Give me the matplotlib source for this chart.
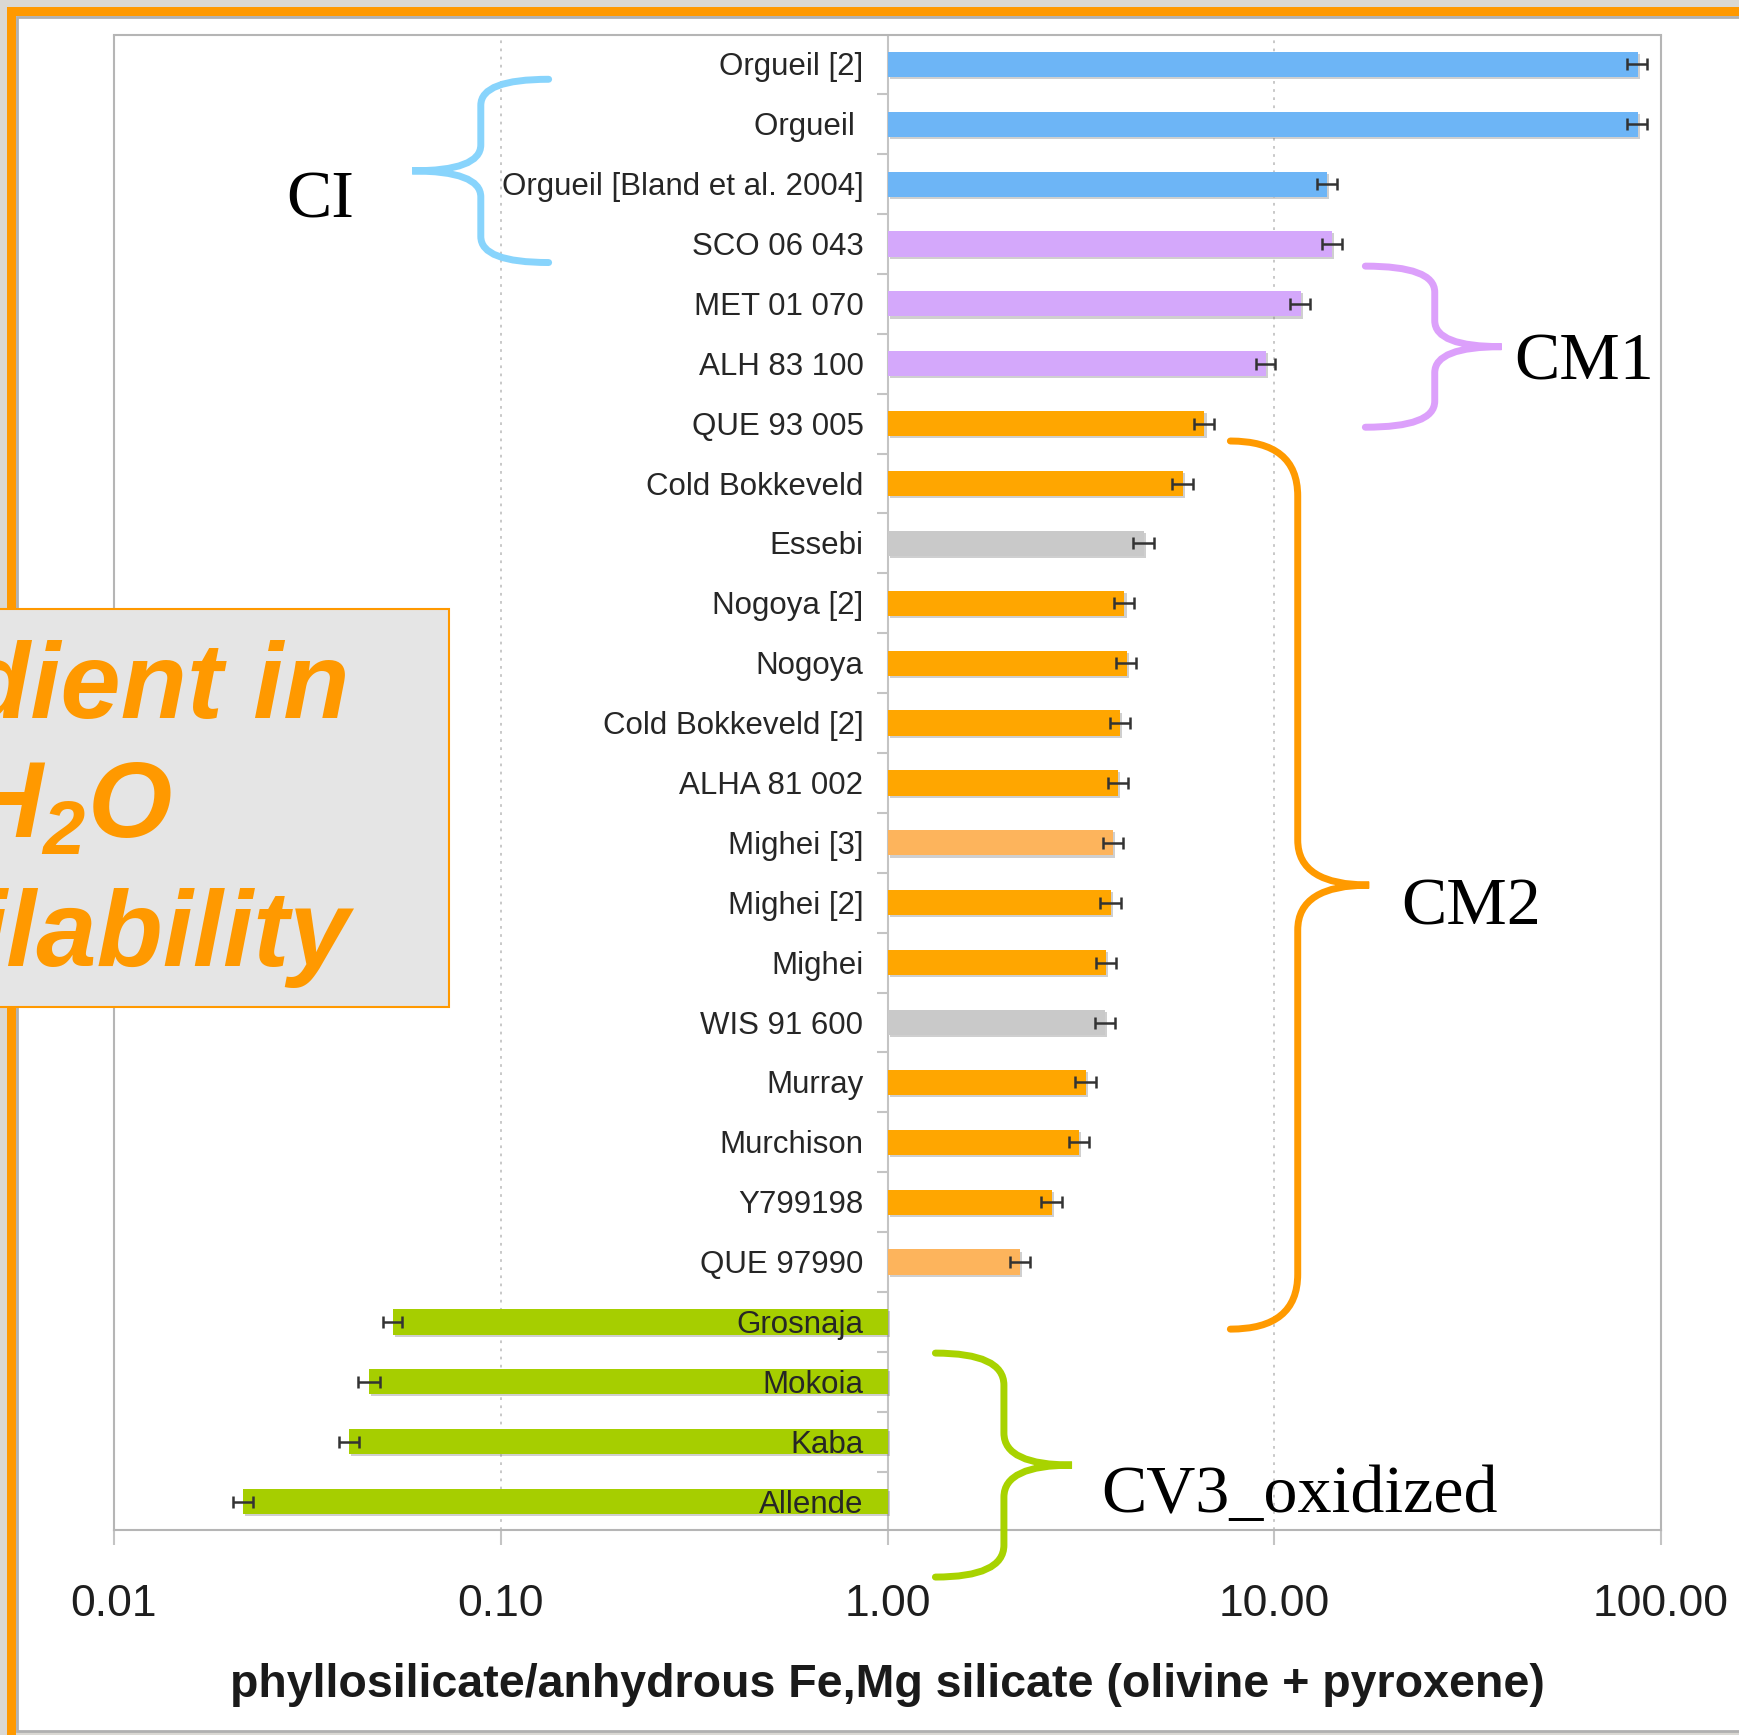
import matplotlib
matplotlib.use("Agg")
import matplotlib.pyplot as plt
import matplotlib.patheffects as pe
from matplotlib.patches import Rectangle, PathPatch
from matplotlib.path import Path
from matplotlib.ticker import NullLocator
from matplotlib.transforms import IdentityTransform
import numpy as np

W, H, DPI = 1739, 1735, 100

plt.rcParams["font.family"] = ["Liberation Sans", "DejaVu Sans"]
plt.rcParams["mathtext.fontset"] = "custom"
plt.rcParams["mathtext.rm"] = "Liberation Sans:italic:bold"
plt.rcParams["mathtext.it"] = "Liberation Sans:italic:bold"

# phyllosilicate / anhydrous silicate ratio per meteorite (top to bottom)
meteorites = ["Orgueil [2]", "Orgueil ", "Orgueil [Bland et al. 2004]", "SCO 06 043",
              "MET 01 070", "ALH 83 100", "QUE 93 005", "Cold Bokkeveld", "Essebi",
              "Nogoya [2]", "Nogoya", "Cold Bokkeveld [2]", "ALHA 81 002", "Mighei [3]",
              "Mighei [2]", "Mighei", "WIS 91 600", "Murray", "Murchison", "Y799198",
              "QUE 97990", "Grosnaja", "Mokoia", "Kaba", "Allende"]
ratio = [87.0, 87.0, 13.7, 14.1, 11.7, 9.5, 6.6, 5.8, 4.6, 4.1, 4.15, 4.0, 3.95, 3.83,
         3.78, 3.67, 3.65, 3.26, 3.13, 2.66, 2.2, 0.0527, 0.0457, 0.0406, 0.0216]
ratio_err = [5.2, 5.2, 0.8, 0.85, 0.7, 0.55, 0.4, 0.35, 0.28, 0.25, 0.25, 0.24, 0.24, 0.23,
             0.23, 0.22, 0.22, 0.2, 0.19, 0.16, 0.13, 0.003, 0.003, 0.0025, 0.0013]
bar_class = ["CI", "CI", "CI", "CM1", "CM1", "CM1", "CM2", "CM2", "unc", "CM2", "CM2",
             "CM2", "CM2", "CM2b", "CM2", "CM2", "unc", "CM2", "CM2", "CM2", "CM2b",
             "CV3", "CV3", "CV3", "CV3"]
class_colors = {"CI": "#6db5f6", "CM1": "#d4a8fb", "CM2": "#ffa600", "CM2b": "#fdb45c",
                "unc": "#c9c9c9", "CV3": "#a6ce00"}

xticks = [0.01, 0.1, 1, 10, 100]
xtick_labels = ["0.01", "0.10", "1.00", "10.00", "100.00"]

# group braces: (label, colour, first row, last row, tip x, spine x, point x, end radius, mid radius)
groups = [
    ("CI", "#88d4fc", 0.25, 3.31, 0.133, 0.0888, 0.059, 26, 26),
    ("CM1", "#dca0fb", 3.37, 6.06, 17.2, 26.0, 38.7, 26, 26),
    ("CM2", "#ff9a00", 6.29, 21.12, 7.7, 11.5, 17.6, 55, 45),
    ("CV3_oxidized", "#a8d300", 21.52, 25.26, 1.33, 2.0, 3.0, 32, 32),
]
# group label placement in page pixels (left, baseline)
group_text_px = {"CI": (286, 218), "CM1": (1514, 379), "CM2": (1401, 924),
                 "CV3_oxidized": (1101, 1512)}


def fx(x):
    return x / W


def fy(y):
    return 1 - y / H


fig = plt.figure(figsize=(W / DPI, H / DPI), dpi=DPI)
fig.patch.set_facecolor("#dad8d3")

# slide frame: orange border on top and left, white page inside
fig.add_artist(Rectangle((fx(7), fy(16)), 1.2, fy(7) - fy(16), transform=fig.transFigure,
                         facecolor="#ff9900", edgecolor="none", zorder=-3))
fig.add_artist(Rectangle((fx(7), fy(H + 10)), fx(9), fy(7) - fy(H + 10), transform=fig.transFigure,
                         facecolor="#ff9900", edgecolor="none", zorder=-3))
fig.add_artist(Rectangle((fx(17), fy(1731)), 1.2, fy(17) - fy(1731), transform=fig.transFigure,
                         facecolor="white", edgecolor="#b0b0b0", linewidth=2, zorder=-2))

ax = fig.add_axes([114 / W, (H - 1530) / H, (1661 - 114) / W, 1494.5 / H])
ax.set_xscale("log")
ax.set_xlim(0.01, 100)
rows = np.arange(len(meteorites))
ax.set_ylim(rows[-1] + 0.474, -0.481)

colors = [class_colors[c] for c in bar_class]
widths = [v - 1 for v in ratio]
bars = ax.barh(rows, widths, left=1, height=0.42, color=colors, zorder=2)
for b in bars:
    b.set_path_effects([pe.SimplePatchShadow(offset=(1.5, -1.5), shadow_rgbFace="#777777", alpha=0.35),
                        pe.Normal()])

ax.errorbar(ratio, rows, xerr=ratio_err, fmt="none", ecolor="#333333", elinewidth=1.8,
            capsize=4.5, capthick=1.8, zorder=3)

# category axis crossing at 1.0
ax.axvline(1, color="#c4c4c4", linewidth=1.5, zorder=1.5)
ax.hlines(rows[1:] - 0.5, 0.942, 1, color="#c4c4c4", linewidth=1.5, zorder=1.5)
for i, name in enumerate(meteorites):
    ax.annotate(name, xy=(1, i), xytext=(-17.3, -2.2), textcoords="offset points",
                ha="right", va="center", fontsize=22.5, color="#262626", zorder=4)

ax.set_xticks(xticks, xtick_labels)
ax.xaxis.set_minor_locator(NullLocator())
ax.tick_params(axis="x", direction="out", length=11, width=1.5, color="#c4c4c4",
               labelsize=32, labelcolor="#1e1e1e", pad=28)
ax.set_yticks([])
ax.tick_params(axis="y", left=False)
ax.xaxis.grid(True, linestyle=(0, (1.5, 3)), color="#c4c4c4", linewidth=1.3)
ax.set_axisbelow(True)
for s in ax.spines.values():
    s.set_color("#b5b5b5")
    s.set_linewidth(1.5)

ax.set_xlabel("phyllosilicate/anhydrous Fe,Mg silicate (olivine + pyroxene)",
              fontsize=33.5, fontweight="bold", color="#1a1a1a")
ax.xaxis.set_label_coords(0.5, -0.089)


def brace(color, r0, r1, x_tip, x_spine, x_point, r_end, r_mid):
    (tx, ty0), (sx, _), (px_, _) = ax.transData.transform(
        [(x_tip, r0), (x_spine, r0), (x_point, r0)])
    ty1 = ax.transData.transform((x_tip, r1))[1]
    ym = ax.transData.transform((x_tip, (r0 + r1) / 2))[1]
    verts = [(tx, ty0), (sx, ty0), (sx, ty0 - r_end), (sx, ym + r_mid), (sx, ym), (px_, ym),
             (sx, ym), (sx, ym - r_mid), (sx, ty1 + r_end), (sx, ty1), (tx, ty1)]
    codes = [Path.MOVETO, Path.CURVE3, Path.CURVE3, Path.LINETO, Path.CURVE3, Path.CURVE3,
             Path.CURVE3, Path.CURVE3, Path.LINETO, Path.CURVE3, Path.CURVE3]
    fig.add_artist(PathPatch(Path(verts, codes), transform=IdentityTransform(), facecolor="none",
                             edgecolor=color, linewidth=5, capstyle="round", zorder=5))


for label, color, r0, r1, x_tip, x_spine, x_point, r_end, r_mid in groups:
    brace(color, r0, r1, x_tip, x_spine, x_point, r_end, r_mid)
    gx, gy = group_text_px[label]
    fig.text(fx(gx), fy(gy), label, family="Liberation Serif", fontsize=49, color="black",
             ha="left", va="baseline", zorder=6)

# callout box on the left edge, its text runs off the slide
fig.add_artist(Rectangle((fx(-5), fy(1007)), fx(454), fy(609) - fy(1007), transform=fig.transFigure,
                         facecolor="#e5e5e5", edgecolor="#ff9900", linewidth=1.5, zorder=7))
callout = [("dient in", 350, 718), ("$H_2O$", 172, 838), ("ilability", 350, 966)]
for txt, rx, by in callout:
    fig.text(fx(rx), fy(by), txt, fontsize=78, fontweight="bold", fontstyle="italic",
             color="#ff9900", ha="right", va="baseline", zorder=8)

fig.savefig("out.png", dpi=DPI)
